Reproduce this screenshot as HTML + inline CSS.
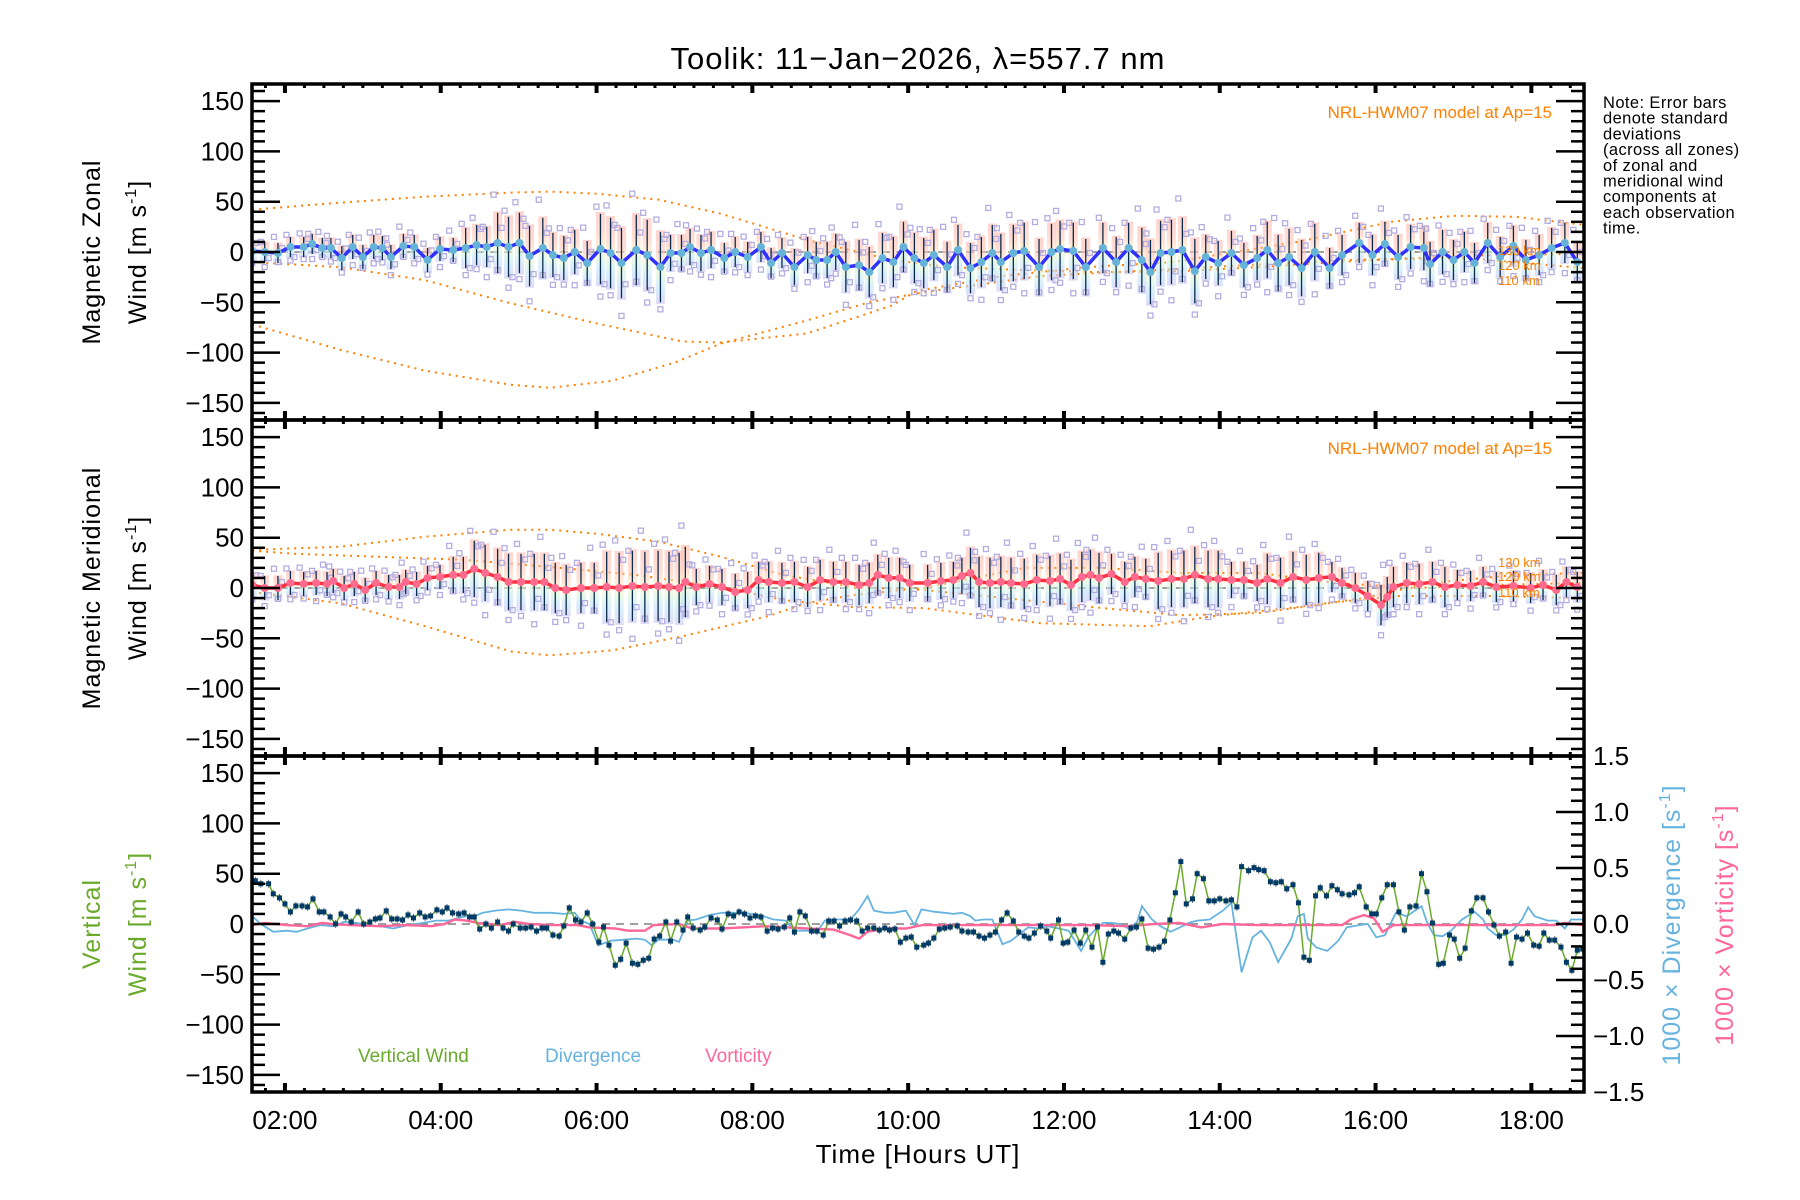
<!DOCTYPE html>
<html><head><meta charset="utf-8"><title>Toolik winds</title>
<style>
html,body{margin:0;padding:0;background:#fff;}
svg{display:block;font-family:"Liberation Sans",sans-serif;}
</style></head>
<body>
<svg id="chart" xmlns="http://www.w3.org/2000/svg" width="1800" height="1200" viewBox="0 0 1800 1200">
<rect x="0" y="0" width="1800" height="1200" fill="#fff"/>
<text x="918" y="69" font-size="31" text-anchor="middle" fill="#000" letter-spacing="1">Toolik: 11−Jan−2026, λ=557.7 nm</text>
<g font-size="16.5" fill="#000" letter-spacing="0.4">
<text x="1603" y="108">Note: Error bars</text>
<text x="1603" y="123.7">denote standard</text>
<text x="1603" y="139.4">deviations</text>
<text x="1603" y="155.1">(across all zones)</text>
<text x="1603" y="170.8">of zonal and</text>
<text x="1603" y="186.5">meridional wind</text>
<text x="1603" y="202.2">components at</text>
<text x="1603" y="217.9">each observation</text>
<text x="1603" y="233.6">time.</text>
</g>
<g id="data-layer"></g>
<g id="axes-layer"></g>
<g id="label-layer">
<text transform="translate(100,252) rotate(-90)" font-size="25" text-anchor="middle" letter-spacing="1">Magnetic Zonal</text>
<text transform="translate(146,252) rotate(-90)" font-size="25" text-anchor="middle" letter-spacing="1">Wind [m s<tspan dy="-10" font-size="16">-1</tspan><tspan dy="10">]</tspan></text>
<text transform="translate(100,588) rotate(-90)" font-size="25" text-anchor="middle" letter-spacing="1">Magnetic Meridional</text>
<text transform="translate(146,588) rotate(-90)" font-size="25" text-anchor="middle" letter-spacing="1">Wind [m s<tspan dy="-10" font-size="16">-1</tspan><tspan dy="10">]</tspan></text>
<text transform="translate(100,924) rotate(-90)" font-size="25" text-anchor="middle" fill="#6aaa2a" letter-spacing="1">Vertical</text>
<text transform="translate(146,924) rotate(-90)" font-size="25" text-anchor="middle" fill="#6aaa2a" letter-spacing="1">Wind [m s<tspan dy="-10" font-size="16">-1</tspan><tspan dy="10">]</tspan></text>
<text transform="translate(1680,925) rotate(-90)" font-size="25" text-anchor="middle" fill="#66b3e0" letter-spacing="1">1000 × Divergence [s<tspan dy="-10" font-size="16">-1</tspan><tspan dy="10">]</tspan></text>
<text transform="translate(1733,925) rotate(-90)" font-size="25" text-anchor="middle" fill="#ff6699" letter-spacing="1">1000 × Vorticity [s<tspan dy="-10" font-size="16">-1</tspan><tspan dy="10">]</tspan></text>
<text x="918" y="1163" font-size="26" text-anchor="middle" letter-spacing="1">Time [Hours UT]</text>
<text x="1552" y="118" font-size="17" text-anchor="end" fill="#ff8000">NRL-HWM07 model at Ap=15</text>
<text x="1552" y="454" font-size="17" text-anchor="end" fill="#ff8000">NRL-HWM07 model at Ap=15</text>
<text x="1498" y="255" font-size="13" fill="#ff8000">130 km</text>
<text x="1498" y="270" font-size="13" fill="#ff8000">120 km</text>
<text x="1498" y="285" font-size="13" fill="#ff8000">110 km</text>
<text x="1498" y="567" font-size="13" fill="#ff8000">130 km</text>
<text x="1498" y="581" font-size="13" fill="#ff8000">120 km</text>
<text x="1498" y="597" font-size="13" fill="#ff8000">110 km</text>
<text x="358" y="1062" font-size="19" fill="#6aaa2a">Vertical Wind</text>
<text x="545" y="1062" font-size="19" fill="#66b3e0">Divergence</text>
<text x="705" y="1062" font-size="19" fill="#ff6699">Vorticity</text>
</g>
<defs>
<linearGradient id="band" x1="0" y1="0" x2="0" y2="1">
<stop offset="0" stop-color="#ffb8b0"/><stop offset="0.3" stop-color="#ffc8b8"/><stop offset="0.5" stop-color="#fff0c0"/><stop offset="0.65" stop-color="#d0f4e0"/><stop offset="0.8" stop-color="#c0e0ff"/><stop offset="1" stop-color="#c8c4f0"/>
</linearGradient>
<clipPath id="clip1"><rect x="252" y="84" width="1332" height="336"/></clipPath>
<clipPath id="clip2"><rect x="252" y="420" width="1332" height="336"/></clipPath>
<clipPath id="clip3"><rect x="252" y="756" width="1332" height="336"/></clipPath>
</defs>
</svg>
<script>
// ---------- data ----------
const zonalTimes1 = [1.58,1.74,1.91,2.07,2.24,2.35,2.48,2.59,2.73,2.87,3.00,3.14,3.25,3.36,3.52,3.66,3.83,3.99,4.16,4.32,4.46,4.59,4.73,4.87,5.01,5.14,5.31,5.44,5.58,5.72,5.88,6.05,6.18,6.32,6.51,6.65,6.82,6.95,7.09,7.20,7.34,7.47,7.64,7.78,7.94,8.11,8.24,8.38,8.54,8.71,8.82,8.96,9.07,9.20,9.37,9.50,9.67,9.81,9.94,10.08];
const zonalValues1 = [1,0,-1,5,5,8,4,4,-6,5,-5,5,4,-5,6,5,-8,3,2,4,7,5,9,5,9,-4,4,-3,-6,0,-11,3,-1,-11,2,-3,-15,-1,-1,5,-1,2,-6,0,-5,5,-11,-1,-15,-3,-8,-8,0,-15,-13,-20,-6,-10,5,-6];
const zonalTimes2 = [10.20,10.33,10.50,10.64,10.80,10.94,11.08,11.19,11.35,11.49,11.68,11.84,11.95,12.12,12.28,12.50,12.67,12.83,13.00,13.11,13.24,13.38,13.52,13.68,13.82,13.98,14.15,14.31,14.48,14.61,14.75,14.89,15.05,15.22,15.41,15.57,15.79,15.96,16.12,16.29,16.45,16.62,16.70,16.86,17.00,17.14,17.27,17.44,17.60,17.77,17.93,18.10,18.26,18.43,18.59];
const zonalValues2 = [-11,-3,-15,2,-16,-10,-1,-10,-1,1,-15,0,3,1,-15,4,-10,4,-8,-20,-1,0,2,-19,-5,-11,-1,-13,-6,2,-11,-5,-16,0,-16,-3,9,-3,8,-5,5,4,-12,0,-8,0,-11,9,-5,6,-8,-3,4,9,-10];
const zonalSdBreaks = [1.5,2.6,4.3,4.7,5.4,6.0,6.9,7.5,8.5,9.2,10.0,11.0,12.3,13.0,13.8,14.5,15.4,16.0,17.0];
const zonalSdValues = [10,12,20,30,22,35,18,15,18,25,25,28,25,32,22,28,20,22,20];

const meridTimes1 = [1.58,1.74,1.91,2.07,2.24,2.40,2.54,2.62,2.76,2.89,3.03,3.17,3.33,3.47,3.55,3.69,3.83,3.99,4.16,4.29,4.43,4.57,4.73,4.87,5.03,5.20,5.33,5.47,5.61,5.80,5.97,6.13,6.29,6.46,6.62,6.79,6.93,7.06,7.14,7.28,7.45,7.61,7.78,7.94,8.08,8.21,8.38,8.54,8.71,8.87,9.04,9.20,9.37,9.50,9.61,9.75,9.89,10.02];
const meridValues1 = [3,0,0,5,4,5,4,7,0,4,-2,5,1,1,6,4,10,11,13,13,19,15,11,6,6,6,6,0,-2,0,0,1,0,2,1,2,1,0,6,1,4,1,-4,-2,8,6,5,6,1,8,6,6,3,5,13,10,10,5];
const meridTimes2 = [10.25,10.42,10.58,10.69,10.80,10.91,11.05,11.19,11.32,11.49,11.65,11.82,11.95,12.09,12.23,12.34,12.45,12.61,12.78,12.91,13.05,13.21,13.38,13.54,13.68,13.85,13.98,14.15,14.31,14.48,14.61,14.78,14.94,15.11,15.27,15.44,15.57,15.74,15.90,16.07,16.15,16.23,16.40,16.56,16.73,16.89,17.05,17.22,17.38,17.55,17.77,17.99,18.15,18.32,18.45,18.59];
const meridValues2 = [5,7,8,12,15,6,5,6,5,4,8,7,9,3,11,13,10,14,6,11,9,7,9,9,13,9,9,8,8,5,9,5,11,8,10,11,5,0,-8,-17,-9,1,5,4,6,1,3,2,6,1,2,0,3,-2,6,1];
const meridSdBreaks = [1.5,4.0,4.4,5.4,6.0,7.2,8.2,9.2,10.0,10.8,12.5,13.2,14.1,14.6,15.4,16.0,17.0];
const meridSdValues = [12,18,28,25,35,18,20,20,18,25,20,28,18,25,15,20,15];

// model curves (HWM07) : zonal
const modelZonalTimesA = [1.58,2.7,3.8,4.9,5.4,6.0,6.8,7.6,8.7,9.8,10.5,11.5,12.5,13.5,14.5,15.5,16.5,17.5,18.67];
const modelZonalA = [42,49,55,59,60,58,52,38,12,-8,-15,-18,-20,-19,-15,-10,-6,-3,-2];
const modelZonalTimesB = [1.58,2.7,3.8,4.9,6.0,7.1,7.6,8.7,9.8,10.1,11.2,12.3,13.4,15.0,16.2,17.0,17.8,18.67];
const modelZonalB = [-10,-15,-28,-51,-71,-89,-90,-81,-53,-39,-24,-15,-10,10,30,36,35,27];
const modelZonalTimesC = [1.58,2.7,3.8,4.9,5.4,6.2,7.0,7.6,8.7,9.5,10.2,11.7,13.4,15.6,17.2,18.67];
const modelZonalC = [-72,-97,-118,-132,-135,-128,-110,-91,-68,-50,-40,-24,-17,-8,-6,-16];
// model curves : meridional
const modelMeridTimesA = [1.58,2.7,3.8,4.9,5.4,6.0,6.8,7.6,8.4,9.3,10.2,11.5,12.5,13.5,14.5,15.5,16.3,17.5,18.67];
const modelMeridA = [38,41,51,58,58,54,46,31,13,1,-2,-12,-20,-27,-25,-14,-8,-8,-10];
const modelMeridTimesB = [1.58,2.13,3.22,4.3,5.4,6.5,7.6,8.4,9.3,10.2,11.7,13.1,13.9,15.0,15.85,16.7,17.8,18.67];
const modelMeridB = [37,34,31,28,21,13,1,-12,-19,-20,-35,-38,-28,-19,-10,5,13,15];
const modelMeridTimesC = [1.58,2.7,3.8,4.9,5.4,6.2,7.1,8.2,8.7,9.3,10.2,11.5,12.5,13.5,14.5,15.5,16.5,17.5,18.67];
const modelMeridC = [-4,-15,-38,-63,-67,-62,-48,-28,-15,-7,0,20,20,15,15,5,0,3,5];

// vertical wind
const vertTimes = [1.62,1.69,1.79,1.85,1.93,2.0,2.07,2.14,2.22,2.29,2.36,2.44,2.5,2.58,2.65,2.72,2.78,2.85,2.94,3.01,3.09,3.16,3.22,3.3,3.37,3.44,3.51,3.58,3.65,3.73,3.8,3.87,3.95,4.02,4.08,4.15,4.23,4.3,4.37,4.43,4.5,4.58,4.65,4.73,4.8,4.87,4.93,5.02,5.09,5.16,5.23,5.3,5.36,5.44,5.52,5.58,5.65,5.73,5.8,5.88,5.95,6.03,6.09,6.16,6.24,6.31,6.38,6.46,6.53,6.6,6.67,6.74,6.81,6.89,6.95,7.03,7.11,7.17,7.24,7.33,7.39,7.47,7.55,7.61,7.69,7.76,7.83,7.9,7.97,8.04,8.11,8.19,8.26,8.33,8.41,8.48,8.54,8.61,8.68,8.76,8.83,8.91,8.98,9.05,9.12,9.19,9.26,9.34,9.41,9.48,9.56,9.63,9.7,9.76,9.83,9.9,9.97,10.04,10.11,10.2,10.26,10.33,10.4,10.47,10.54,10.63,10.69,10.77,10.84,10.91,10.98,11.05,11.12,11.2,11.27,11.35,11.42,11.49,11.55,11.62,11.7,11.78,11.83,11.93,11.99,12.05,12.13,12.21,12.28,12.36,12.43,12.5,12.57,12.64,12.7,12.78,12.86,12.93,13.0,13.08,13.15,13.22,13.29,13.36,13.43,13.5,13.57,13.65,13.71,13.79,13.86,13.93,14.0,14.08,14.15,14.22,14.28,14.37,14.44,14.5,14.57,14.65,14.72,14.79,14.86,14.94,15.01,15.08,15.15,15.23,15.29,15.37,15.44,15.51,15.57,15.66,15.73,15.79,15.88,15.95,16.01,16.08,16.15,16.23,16.3,16.37,16.44,16.52,16.59,16.66,16.73,16.81,16.87,16.95,17.01,17.08,17.15,17.23,17.3,17.38,17.45,17.52,17.59,17.67,17.74,17.81,17.88,17.95,18.03,18.1,18.16,18.23,18.3,18.38,18.45,18.52,18.59,18.66];
const vertValues = [43,40,40,30,26,20,12,18,18,17,25,12,12,7,0,10,7,2,12,0,2,5,6,13,5,5,4,9,6,11,7,8,14,12,16,11,10,11,7,7,-5,0,-4,2,-4,-7,0,-4,-4,-3,-7,-4,-4,-11,-12,-2,16,4,2,11,0,-18,-3,-21,-41,-35,-19,-39,-40,-36,-34,-15,-12,2,-17,2,-6,7,-4,-6,-3,6,4,-5,10,8,12,10,6,8,7,-7,-4,-5,-3,6,-8,12,8,-7,-7,-11,3,3,-2,3,4,3,-7,-4,-4,-6,-4,-6,-5,-18,-14,-13,-23,-21,-19,-14,-5,-4,-3,-2,-7,-8,-8,-12,-14,-11,-8,4,11,3,-8,-12,-14,-9,-2,-7,-14,4,-19,-18,-6,-19,-6,-23,-3,-38,-10,-7,-9,-15,-4,-3,5,-24,-25,-23,-17,4,31,62,20,25,50,45,23,23,25,23,24,17,57,53,56,54,53,42,41,42,35,39,21,-33,-36,28,36,28,38,34,30,29,31,37,17,10,10,26,39,39,12,-6,17,18,50,32,1,-40,-39,-11,-15,-34,-24,13,26,26,12,-1,-12,-8,-39,-13,-15,-9,-21,-22,-9,-16,-16,-23,-38,-46,-26,-25,-21];
// divergence (x1000 s^-1)
const divTimes = [1.58,1.69,1.85,2.02,2.15,2.29,2.45,2.62,2.76,2.92,3.06,3.22,3.39,3.58,3.77,3.94,4.10,4.21,4.32,4.43,4.54,4.70,4.87,5.03,5.20,5.42,5.58,5.72,5.80,5.91,6.02,6.18,6.35,6.51,6.62,6.71,6.79,6.98,7.06,7.17,7.28,7.45,7.61,7.88,8.10,8.27,8.43,8.54,8.71,8.82,8.93,9.09,9.26,9.37,9.48,9.56,9.70,9.81,9.97,10.08,10.17,10.33,10.47,10.58,10.69,10.80,10.86,10.97,11.08,11.21,11.32,11.43,11.54,11.68,11.79,11.93,12.06,12.22,12.31,12.39,12.50,12.61,12.72,12.83,12.94,13.00,13.13,13.24,13.37,13.46,13.60,13.71,13.87,14.04,14.15,14.28,14.42,14.53,14.64,14.75,14.92,15.00,15.08,15.13,15.24,15.38,15.52,15.63,15.79,15.90,16.01,16.12,16.26,16.40,16.59,16.67,16.75,16.86,16.97,17.11,17.27,17.38,17.44,17.55,17.66,17.77,17.88,17.96,18.04,18.21,18.32,18.43,18.51,18.67];
const divValues = [0.07,0,-0.07,-0.06,-0.07,-0.04,-0.01,-0.02,0.02,0.01,-0.01,-0.02,-0.04,-0.01,0.01,0.03,0.03,0.05,0.07,0.07,0.1,0.12,0.13,0.12,0.1,0.1,0.09,0.1,0.03,0,-0.19,-0.15,-0.14,-0.13,-0.14,-0.19,-0.14,-0.14,-0.16,0.03,0.04,0.08,0.1,0.1,0.08,0.04,0.03,-0.06,-0.06,-0.08,0.03,0.04,0.04,0.13,0.25,0.12,0.1,0.1,0.12,-0.01,0.13,0.11,0.1,0.09,0.1,0.07,0.03,0.04,0.04,-0.18,-0.15,-0.09,-0.03,-0.04,-0.02,-0.04,-0.06,-0.24,-0.12,-0.06,0.01,0.01,0,-0.04,0.02,0.16,0.04,-0.02,-0.07,-0.04,0.01,0.03,0.04,0.12,0.19,-0.43,-0.12,-0.06,-0.16,-0.34,-0.13,0.07,0.09,-0.13,-0.21,-0.24,-0.15,-0.03,-0.01,0,-0.12,-0.1,0.1,0.07,0.16,0,-0.1,-0.11,-0.06,0.04,0.11,0.04,-0.04,-0.1,-0.1,-0.05,0.04,0.15,0.07,0.03,0.03,-0.04,0.04,0.04];
// vorticity (x1000 s^-1)
const vortTimes = [1.58,1.74,2.02,2.29,2.48,2.59,2.84,3.22,3.55,3.88,4.05,4.18,4.32,4.48,4.76,4.95,5.14,5.42,5.75,5.91,6.24,6.40,6.62,6.73,7.06,7.23,7.61,8.16,8.71,9.04,9.26,9.37,9.48,9.70,9.97,10.18,10.64,11.19,11.73,12.28,12.83,13.16,13.49,13.76,14.04,14.48,15.03,15.57,15.68,15.85,15.98,16.09,16.23,17.22,17.77,18.32,18.43,18.67];
const vortValues = [-0.01,0.01,-0.01,-0.02,0.01,0,-0.01,-0.02,-0.01,-0.02,0,0.04,0.03,0.01,-0.01,0.02,0,-0.01,-0.01,-0.03,-0.04,-0.06,-0.06,-0.01,0,-0.04,-0.04,-0.02,-0.04,-0.05,-0.1,-0.13,-0.07,-0.04,-0.04,-0.01,-0.01,-0.01,-0.01,-0.01,-0.02,0,0.01,-0.03,0,-0.01,-0.01,-0.01,0.04,0.08,0.05,-0.07,-0.01,-0.01,-0.01,-0.01,0.01,-0.01];
const xTickLabels = ["02:00","04:00","06:00","08:00","10:00","12:00","14:00","16:00","18:00"];
const xTickHours = [2,4,6,8,10,12,14,16,18];
const leftTickLabels = ["−150","−100","−50","0","50","100","150"];
const leftTickValues = [-150,-100,-50,0,50,100,150];
const rightTickLabels = ["−1.5","−1.0","−0.5","0.0","0.5","1.0","1.5"];
const rightTickValues = [-1.5,-1.0,-0.5,0,0.5,1.0,1.5];

// ---------- scales ----------
const NS = "http://www.w3.org/2000/svg";
const X0 = 252, X1 = 1584, T0 = 1.577, PXH = 77.9;
const PANEL_TOP = [84, 420, 756], PANEL_H = 336;
const PXV = 1.006, PXR = 112;
function xScale(t){ return X0 + (t - T0) * PXH; }
function yScale(p, v){ return PANEL_TOP[p] + PANEL_H/2 - v * PXV; }
function yRight(v){ return PANEL_TOP[2] + PANEL_H/2 - v * PXR; }
function mk(tag, attrs, parent){
  const el = document.createElementNS(NS, tag);
  for (const k in attrs) el.setAttribute(k, attrs[k]);
  parent.appendChild(el);
  return el;
}
function sdAt(t, breaks, vals){
  let s = vals[0];
  for (let i = 0; i < breaks.length; i++) if (t >= breaks[i]) s = vals[i];
  return s;
}
const dataLayer = document.getElementById('data-layer');
const axesLayer = document.getElementById('axes-layer');

for (let p = 0; p < 3; p++) {
  const z = mk('line', {x1:X0, x2:X1, y1:yScale(p,0), y2:yScale(p,0), stroke:'#808080', 'stroke-width':1.5, 'stroke-dasharray':'8 6'}, dataLayer);
  
  
}

function drawModel(p, times, vals, name){
  const pts = times.map((t,i)=> xScale(t).toFixed(1)+','+yScale(p, vals[i]).toFixed(1)).join(' ');
  const pl = mk('polyline', {points:pts, fill:'none', stroke:'#ff8000', 'stroke-width':2, 'stroke-dasharray':'2 5', 'clip-path':'url(#clip'+(p+1)+')'}, dataLayer);
  
  
}

function drawHorizontal(p, times, vals, breaks, sds, lineColor, markColor, name){
  const g = mk('g', {'clip-path':'url(#clip'+(p+1)+')'}, dataLayer);
  
  
  const ks = [[1.35,-1.2,0.8],[1.0,-1.5,-0.6],[1.6,-0.9,0.5],[1.2,-1.35,-1.0]];
  times.forEach((t,i)=>{
    const x = xScale(t), s = sdAt(t, breaks, sds), v = vals[i];
    const b = mk('rect', {x:x-4.5, y:yScale(p, v+s*1.05), width:9, height:(s*2.1)*PXV, fill:'url(#band)', opacity:0.6}, g);
    
    
  });
  times.forEach((t,i)=>{
    const x = xScale(t), s = sdAt(t, breaks, sds), v = vals[i];
    const k = ks[i % ks.length];
    k.forEach((kk,j)=>{
      const sq = mk('rect', {x:x-2.5+(j-1)*4, y:yScale(p, v+s*kk)-2.5, width:5, height:5, fill:'none', stroke:'#b4aee0', 'stroke-width':1.3}, g);
      
      
    });
    const eb = mk('line', {x1:x, x2:x, y1:yScale(p, v+s), y2:yScale(p, v-s), stroke:'#0a2a4a', 'stroke-width':1.3}, g);
    
    
  });
  const pts = times.map((t,i)=> xScale(t).toFixed(1)+','+yScale(p, vals[i]).toFixed(1)).join(' ');
  const ln = mk('polyline', {points:pts, fill:'none', stroke:lineColor, 'stroke-width':3.5}, g);
  
  
  times.forEach((t,i)=>{
    const c = mk('circle', {cx:xScale(t), cy:yScale(p, vals[i]), r:4, fill:markColor}, g);
    
    
  });
}

drawModel(0, modelZonalTimesA, modelZonalA, 'zonal-model-130km');
drawModel(0, modelZonalTimesB, modelZonalB, 'zonal-model-120km');
drawModel(0, modelZonalTimesC, modelZonalC, 'zonal-model-110km');
drawModel(1, modelMeridTimesA, modelMeridA, 'meridional-model-a');
drawModel(1, modelMeridTimesB, modelMeridB, 'meridional-model-b');
drawModel(1, modelMeridTimesC, modelMeridC, 'meridional-model-c');
drawHorizontal(0, zonalTimes1.concat(zonalTimes2), zonalValues1.concat(zonalValues2), zonalSdBreaks, zonalSdValues, '#3030ff', '#66b3d9', 'zonal');
drawHorizontal(1, meridTimes1.concat(meridTimes2), meridValues1.concat(meridValues2), meridSdBreaks, meridSdValues, '#ff3040', '#ff6b8f', 'meridional');

(function(){
  const g = mk('g', {'clip-path':'url(#clip3)'}, dataLayer);
  
  
  const dpts = divTimes.map((t,i)=> xScale(t).toFixed(1)+','+yRight(divValues[i]).toFixed(1)).join(' ');
  const dl = mk('polyline', {points:dpts, fill:'none', stroke:'#66b3e0', 'stroke-width':1.8}, g);
  
  
  const vpts = vortTimes.map((t,i)=> xScale(t).toFixed(1)+','+yRight(vortValues[i]).toFixed(1)).join(' ');
  const vl = mk('polyline', {points:vpts, fill:'none', stroke:'#ff6699', 'stroke-width':2.4}, g);
  
  
  vertTimes.forEach((t,i)=>{
    const e = mk('line', {x1:xScale(t), x2:xScale(t), y1:yScale(2, vertValues[i]+4), y2:yScale(2, vertValues[i]-4), stroke:'#707070', 'stroke-width':1}, g);
    
    
  });
  const wpts = vertTimes.map((t,i)=> xScale(t).toFixed(1)+','+yScale(2, vertValues[i]).toFixed(1)).join(' ');
  const wl = mk('polyline', {points:wpts, fill:'none', stroke:'#6aaa2a', 'stroke-width':1.5}, g);
  
  
  vertTimes.forEach((t,i)=>{
    const pt = mk('rect', {x:xScale(t)-2.5, y:yScale(2, vertValues[i])-2.5, width:5, height:5, fill:'#003a66'}, g);
    
    
  });
})();

for (let p = 0; p < 3; p++) {
  const top = PANEL_TOP[p], bot = top + PANEL_H;
  const frame = mk('rect', {x:X0, y:top, width:X1-X0, height:PANEL_H, fill:'none', stroke:'#000', 'stroke-width':3.5}, axesLayer);
  
  
  for (let m = 0; ; m++) {
    const t = 1.75 + m * 0.25;
    if (t > 18.68) break;
    const x = xScale(t);
    const major = Math.abs(t/2 - Math.round(t/2)) < 1e-6;
    const len = major ? 9 : 4;
    const w = major ? 4 : 3;
    mk('line', {x1:x, x2:x, y1:bot, y2:bot-len, stroke:'#000', 'stroke-width':w}, axesLayer);
    mk('line', {x1:x, x2:x, y1:top, y2:top+len, stroke:'#000', 'stroke-width':w}, axesLayer);
  }
  for (let v = -160; v <= 160; v += 10) {
    const y = yScale(p, v);
    const major = v % 50 === 0;
    const len = major ? 28 : 13;
    mk('line', {x1:X0, x2:X0+len, y1:y, y2:y, stroke:'#000', 'stroke-width':2.5}, axesLayer);
    if (p < 2) mk('line', {x1:X1, x2:X1-len, y1:y, y2:y, stroke:'#000', 'stroke-width':2.5}, axesLayer);
  }
  leftTickValues.forEach((v,i)=>{
    const tl = mk('text', {x:244, y:yScale(p,v)+9, 'font-size':26, 'text-anchor':'end', fill:'#000'}, axesLayer);
    tl.textContent = leftTickLabels[i];
    
    
  });
}
for (let k = -15; k <= 15; k++) {
  const y = yRight(k/10);
  const major = k % 5 === 0;
  mk('line', {x1:X1, x2:X1-(major?28:13), y1:y, y2:y, stroke:'#000', 'stroke-width':2.5}, axesLayer);
}
rightTickValues.forEach((v,i)=>{
  const tl = mk('text', {x:1593, y:yRight(v)+9, 'font-size':26, fill:'#000'}, axesLayer);
  tl.textContent = rightTickLabels[i];
  
  
});
xTickHours.forEach((h,i)=>{
  const tl = mk('text', {x:xScale(h), y:1129, 'font-size':26, 'text-anchor':'middle', fill:'#000'}, axesLayer);
  tl.textContent = xTickLabels[i];
  
  
});
</script>
</body></html>
